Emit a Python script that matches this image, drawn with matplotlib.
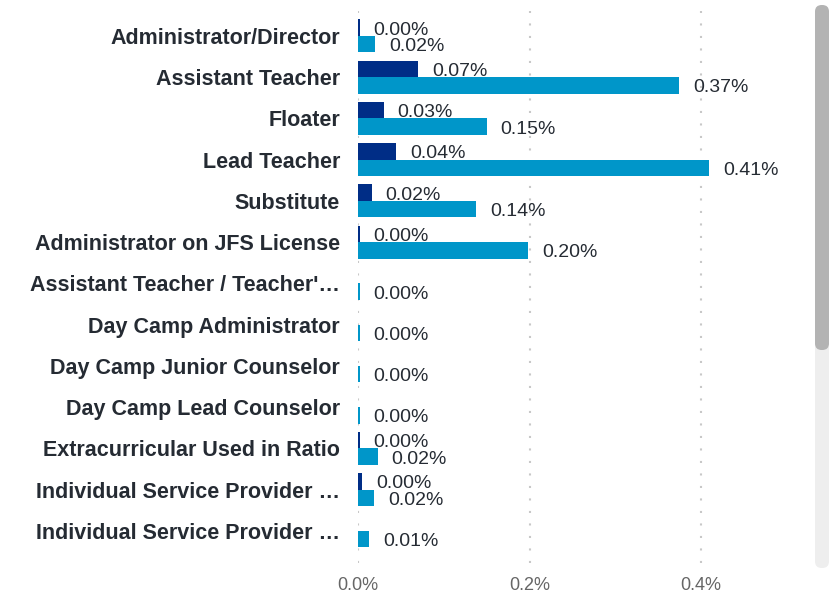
import matplotlib.pyplot as plt
from matplotlib.patches import FancyBboxPatch

plt.rcParams['font.family'] = ['Liberation Sans', 'DejaVu Sans']

# data (values in percent)
categories = ['Administrator/Director', 'Assistant Teacher', 'Floater', 'Lead Teacher',
              'Substitute', 'Administrator on JFS License', "Assistant Teacher / Teacher'\u2026",
              'Day Camp Administrator', 'Day Camp Junior Counselor', 'Day Camp Lead Counselor',
              'Extracurricular Used in Ratio', 'Individual Service Provider \u2026',
              'Individual Service Provider \u2026']
series_a = [0.002, 0.07, 0.03, 0.044, 0.016, 0.002, None, None, None, None, 0.002, 0.0045, None]
series_b = [0.02, 0.374, 0.15, 0.409, 0.138, 0.198, 0.002, 0.002, 0.002, 0.002, 0.023, 0.019, 0.013]
x_ticks = [0.0, 0.2, 0.4]
x_tick_labels = ['0.0%', '0.2%', '0.4%']

dark = '#002d86'
light = '#0096c9'
text_c = '#252b33'

fig = plt.figure(figsize=(8.32, 6.02), dpi=100)
ax = fig.add_axes([358 / 832, 1 - 563 / 602, (787 - 358) / 832, (563 - 11) / 602])

h = 0.4
for i, (a, b) in enumerate(zip(series_a, series_b)):
    if a is not None:
        ax.barh(i - h / 2, a, height=h, color=dark)
        ax.annotate(f'{a:.2f}%', (a, i - h / 2), xytext=(14, -2.5), textcoords='offset pixels',
                    va='center', ha='left', fontsize=14, color=text_c)
    if b is not None:
        ax.barh(i + h / 2, b, height=h, color=light)
        ax.annotate(f'{b:.2f}%', (b, i + h / 2), xytext=(14, -2.5), textcoords='offset pixels',
                    va='center', ha='left', fontsize=14, color=text_c)

ax.set_ylim(len(categories) - 1 + 0.776, -0.606)
ax.set_xlim(0, 0.5)
ax.set_yticks(range(len(categories)))
ax.set_yticklabels(categories, fontsize=15.5, fontweight='bold', color=text_c)
ax.set_xticks(x_ticks)
ax.set_xticklabels(x_tick_labels, fontsize=13, color='#666666')
ax.tick_params(length=0)
ax.tick_params(axis='y', pad=13)
ax.tick_params(axis='x', pad=10)
for s in ax.spines.values():
    s.set_visible(False)
ax.grid(axis='x', color='#c8c8c8', linestyle=(0, (1, 5)), linewidth=1.5)
ax.set_axisbelow(True)

# scrollbar
fig.patches.append(FancyBboxPatch((815 / 832, 1 - 568 / 602), 14 / 832, 562 / 602,
                                  boxstyle='round,pad=0,rounding_size=0.008',
                                  transform=fig.transFigure, facecolor='#eeeeee',
                                  edgecolor='none', mutation_aspect=832 / 602))
fig.patches.append(FancyBboxPatch((815 / 832, 1 - 350 / 602), 14 / 832, 345 / 602,
                                  boxstyle='round,pad=0,rounding_size=0.008',
                                  transform=fig.transFigure, facecolor='#b3b3b3',
                                  edgecolor='none', mutation_aspect=832 / 602))

fig.savefig('out.png', dpi=100)
